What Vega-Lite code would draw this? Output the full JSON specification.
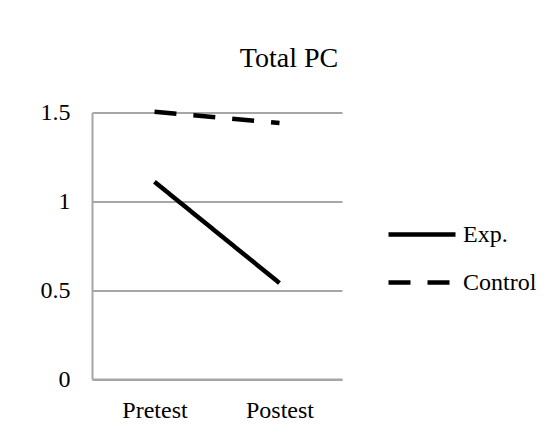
{
  "$schema": "https://vega.github.io/schema/vega-lite/v6.json",
  "width": 250,
  "height": 266.5,
  "autosize": {"type": "none"},
  "padding": {"left": 92, "top": 112.5, "right": 216, "bottom": 57},
  "background": "white",
  "title": {
    "text": "Total PC",
    "font": "Times New Roman, Liberation Serif, DejaVu Serif, serif",
    "fontSize": 28,
    "fontWeight": "normal",
    "color": "black",
    "anchor": "middle",
    "dx": 72,
    "offset": 28
  },
  "data": {
    "values": [
      {"test": "Pretest", "group": "Exp.", "value": 1.11},
      {"test": "Postest", "group": "Exp.", "value": 0.54},
      {"test": "Pretest", "group": "Control", "value": 1.504},
      {"test": "Postest", "group": "Control", "value": 1.441}
    ]
  },
  "mark": {"type": "line", "color": "black", "strokeWidth": 4.5},
  "encoding": {
    "x": {
      "field": "test",
      "type": "nominal",
      "sort": ["Pretest", "Postest"],
      "scale": {"type": "point", "padding": 0.5},
      "axis": {
        "title": null,
        "labelAngle": 0,
        "labelFont": "Times New Roman, Liberation Serif, DejaVu Serif, serif",
        "labelFontSize": 24,
        "labelColor": "black",
        "labelPadding": 19,
        "ticks": false,
        "domain": true,
        "domainColor": "#a6a6a6",
        "domainWidth": 2,
        "grid": false
      }
    },
    "y": {
      "field": "value",
      "type": "quantitative",
      "scale": {"domain": [0, 1.5], "nice": false},
      "axis": {
        "title": null,
        "values": [0, 0.5, 1, 1.5],
        "format": "~g",
        "labelFont": "Times New Roman, Liberation Serif, DejaVu Serif, serif",
        "labelFontSize": 24,
        "labelColor": "black",
        "labelPadding": 22,
        "ticks": false,
        "domain": true,
        "domainColor": "#a6a6a6",
        "domainWidth": 2,
        "grid": true,
        "gridColor": "#a6a6a6",
        "gridWidth": 2,
        "gridOpacity": 1
      }
    },
    "strokeDash": {
      "field": "group",
      "type": "nominal",
      "scale": {"domain": ["Exp.", "Control"], "range": [[1, 0], [22, 17]]},
      "legend": {
        "title": null,
        "orient": "none",
        "legendX": 294,
        "legendY": 86,
        "padding": 0,
        "symbolType": "stroke",
        "symbolSize": 4489,
        "symbolStrokeWidth": 4.5,
        "symbolStrokeColor": "black",
        "labelFont": "Times New Roman, Liberation Serif, DejaVu Serif, serif",
        "labelFontSize": 24,
        "labelColor": "black",
        "labelOffset": 5,
        "rowPadding": -20
      }
    }
  },
  "config": {"view": {"stroke": null}}
}
